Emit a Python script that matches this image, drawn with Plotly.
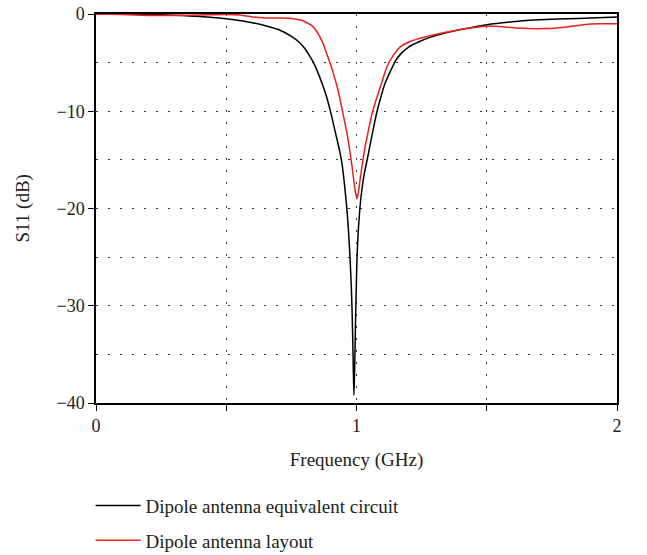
import plotly.graph_objects as go

# Dipole antenna equivalent circuit (black)
freq_circuit = [0.0, 0.1, 0.2, 0.3, 0.4, 0.5, 0.55, 0.6, 0.65, 0.7, 0.75, 0.78, 0.8, 0.82, 0.833, 0.85,
                0.87, 0.885, 0.9, 0.92, 0.933, 0.944, 0.955, 0.963, 0.97, 0.975, 0.98, 0.983, 0.986,
                0.988, 0.99, 0.992, 0.994, 0.996, 0.998, 1.002, 1.007, 1.013, 1.02, 1.03,
                1.044, 1.06, 1.079, 1.095, 1.11, 1.13, 1.148, 1.17, 1.2, 1.24, 1.282, 1.34, 1.4, 1.5,
                1.6, 1.7, 1.85, 2.0]
s11_circuit = [0.0, -0.02, -0.05, -0.12, -0.25, -0.5, -0.68, -0.9, -1.2, -1.6, -2.3, -2.9, -3.5, -4.3,
               -4.9, -5.9, -7.3, -8.5, -10.0, -12.3, -13.8, -15.3, -17.8, -20.0, -22.6, -25.0, -28.0,
               -30.5, -34.0, -36.8, -39.2, -37.5, -35.0, -32.0, -29.5, -25.0, -22.2, -20.0, -18.2, -16.4,
               -14.6, -12.4, -10.0, -8.4, -7.1, -5.9, -4.9, -4.1, -3.4, -2.85, -2.4, -1.95, -1.6, -1.1,
               -0.8, -0.6, -0.45, -0.3]

# Dipole antenna layout (red)
freq_layout = [0.0, 0.1, 0.2, 0.3, 0.4, 0.5, 0.55, 0.6, 0.65, 0.706, 0.75, 0.783, 0.81, 0.833, 0.85,
               0.871, 0.89, 0.91, 0.925, 0.937, 0.95, 0.963, 0.975, 0.983, 0.99, 0.995, 1.002, 1.007,
               1.013, 1.021, 1.032, 1.044, 1.06, 1.079, 1.1, 1.117, 1.14, 1.167, 1.2, 1.244, 1.32, 1.36,
               1.42, 1.5, 1.56, 1.616, 1.73, 1.8, 1.87, 1.93, 2.0]
s11_layout = [0.0, -0.05, -0.15, -0.15, -0.1, -0.05, -0.1, -0.3, -0.4, -0.4, -0.45, -0.6, -0.9, -1.3,
              -1.9, -3.0, -4.4, -6.0, -7.4, -8.8, -10.5, -12.2, -14.2, -15.7, -17.2, -18.2, -19.0,
              -18.4, -17.2, -15.7, -13.8, -12.2, -10.2, -8.5, -6.8, -5.4, -4.3, -3.4, -2.9, -2.5, -2.0,
              -1.8, -1.5, -1.25, -1.3, -1.45, -1.5, -1.35, -1.1, -1.0, -1.0]

x_tickvals = [0, 1, 2]
x_ticktext = ["0", "1", "2"]
y_tickvals = [0, -10, -20, -30, -40]
y_ticktext = ["0", "\u221210", "\u221220", "\u221230", "\u221240"]

FONT = "Liberation Serif"
TXT = "#222"
DOTS = "2px,10px"

fig = go.Figure()
fig.add_trace(go.Scatter(x=freq_circuit, y=s11_circuit, mode="lines",
                         name="Dipole antenna equivalent circuit", legendgroup="a",
                         line=dict(color="black", width=1.5, shape="spline", smoothing=0.5)))
fig.add_trace(go.Scatter(x=freq_layout, y=s11_layout, mode="lines",
                         name="Dipole antenna layout", legendgroup="b",
                         line=dict(color="#e8231b", width=1.5, shape="spline", smoothing=0.5)))

axis_common = dict(showline=True, linecolor="black", linewidth=1.5, mirror=True,
                   ticks="outside", ticklen=6, tickcolor="black", tickwidth=1,
                   zeroline=False,
                   tickfont=dict(family=FONT, size=18, color=TXT),
                   showgrid=True, gridcolor="#333", gridwidth=1, griddash=DOTS)

fig.update_xaxes(range=[0, 2], tickvals=x_tickvals, ticktext=x_ticktext,
                 minor=dict(tickvals=[0.5, 1.5], ticks="outside", ticklen=6, tickcolor="black",
                            showgrid=True, gridcolor="#333", griddash=DOTS),
                 title=dict(text="Frequency (GHz)", font=dict(family=FONT, size=19, color=TXT),
                            standoff=17),
                 **axis_common)
fig.update_yaxes(range=[-40, 0], tickvals=y_tickvals, ticktext=y_ticktext,
                 minor=dict(dtick=5, ticks="", showgrid=True, gridcolor="#333", griddash=DOTS),
                 **axis_common)

fig.add_annotation(text="S11 (dB)", xref="paper", yref="paper", x=-0.142, y=0.5,
                   textangle=-90, showarrow=False, xanchor="center", yanchor="middle",
                   font=dict(family=FONT, size=19, color=TXT))

fig.update_layout(
    width=647, height=555,
    margin=dict(l=96, r=30, t=14, b=152, autoexpand=False),
    plot_bgcolor="white", paper_bgcolor="white",
    showlegend=True,
    legend=dict(x=0.14, y=0.123, xref="container", yref="container",
                xanchor="left", yanchor="top",
                font=dict(family=FONT, size=19, color=TXT),
                itemwidth=45,
                tracegroupgap=7, bgcolor="rgba(0,0,0,0)"),
)

fig.write_html("out.html")
